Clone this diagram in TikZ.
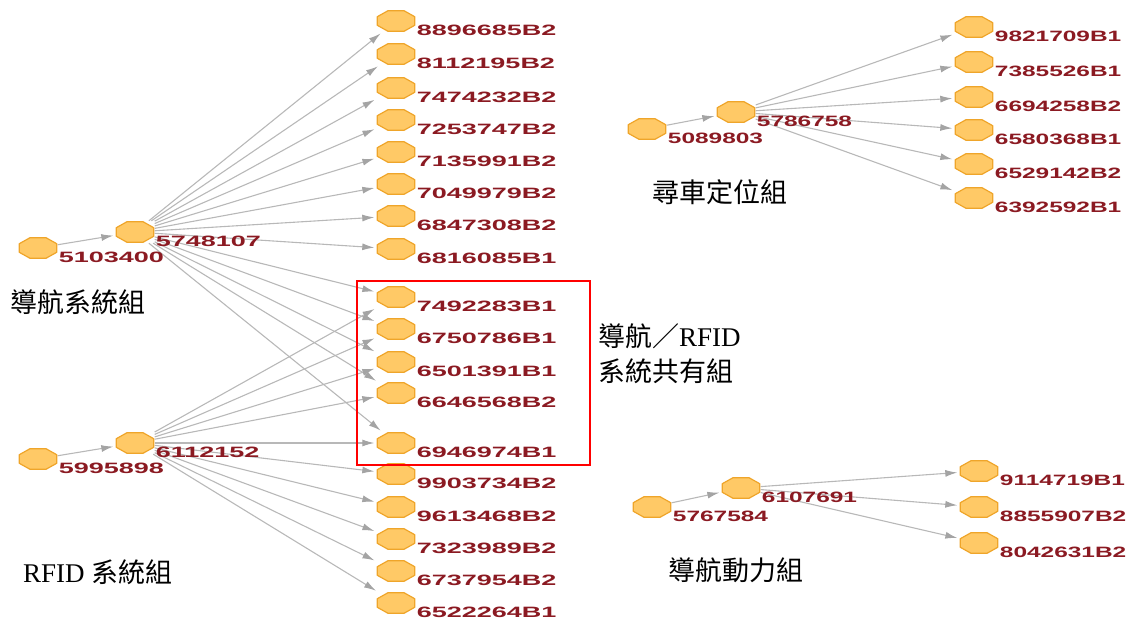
\documentclass[tikz,border=0pt]{standalone}
\usepackage{fontspec}
\setmainfont{Liberation Serif}
\newfontfamily\cjk{Noto Sans CJK TC}
\newfontfamily\lblfont{Liberation Sans}[FakeStretch=1.8]
\newfontfamily\lblfontn{Liberation Sans}[FakeStretch=1.63]
\usetikzlibrary{arrows.meta,backgrounds}
\definecolor{nodefill}{HTML}{FFC966}
\definecolor{nodeline}{HTML}{EFA52A}
\definecolor{lblred}{HTML}{8B1A22}
\definecolor{edgegray}{HTML}{B8B8B8}
\definecolor{tipgray}{HTML}{A4A4A4}
\tikzset{
  gnode/.style={rectangle, minimum width=39pt, minimum height=22pt, inner sep=0pt,
    path picture={\filldraw[shift={(path picture bounding box.center)}, fill=nodefill,
      draw=nodeline, line width=1.2pt, line join=round]
      (-18.7,-4.3) -- (-18.7,4.3) -- (-8,10.3) -- (8,10.3) -- (18.7,4.3)
      -- (18.7,-4.3) -- (8,-10.3) -- (-8,-10.3) -- cycle;}},
  lbl/.style={anchor=west, inner sep=0pt, text=lblred, font=\lblfont\bfseries\fontsize{15}{15}\selectfont},
  lbln/.style={anchor=west, inner sep=0pt, text=lblred, font=\lblfontn\bfseries\fontsize{15}{15}\selectfont},
  edge/.style={draw=edgegray, line width=1.1pt, -{Latex[length=12pt,width=7pt,color=tipgray]}, shorten >=2pt},
  grp/.style={font=\fontsize{27}{35}\selectfont, anchor=west, inner sep=0pt, align=left},
}
\newcommand\gn[3]{\node[gnode] (#1) at (#2) {}; \node[lbl] (#1l) at ([xshift=1pt,yshift=-9pt]#1.east) {#3};}
\newcommand\gnr[3]{\node[gnode] (#1) at (#2) {}; \node[lbln] (#1l) at ([xshift=1pt,yshift=-9pt]#1.east) {#3};}
\begin{document}
\begin{tikzpicture}[x=1pt,y=-1pt]
\useasboundingbox (0,0) rectangle (1127,620);
% left group
\gn{a0}{38,248}{5103400}
\gn{a1}{135,232}{5748107}
\gn{b0}{38,459}{5995898}
\gn{b1}{135,443}{6112152}
\gn{L1}{396,21}{8896685B2}
\gn{L2}{396,54}{8112195B2}
\gn{L3}{396,88}{7474232B2}
\gn{L4}{396,120}{7253747B2}
\gn{L5}{396,152}{7135991B2}
\gn{L6}{396,184}{7049979B2}
\gn{L7}{396,216}{6847308B2}
\gn{L8}{396,249}{6816085B1}
\gn{L9}{396,297}{7492283B1}
\gn{L10}{396,329}{6750786B1}
\gn{L11}{396,362}{6501391B1}
\gn{L12}{396,393}{6646568B2}
\gn{L13}{396,443}{6946974B1}
\gn{L14}{396,474}{9903734B2}
\gn{L15}{396,507}{9613468B2}
\gn{L16}{396,539}{7323989B2}
\gn{L17}{396,571}{6737954B2}
\gn{L18}{396,603}{6522264B1}
% right group
\gnr{r0}{647,129}{5089803}
\gnr{r1}{736,112}{5786758}
\gnr{R1}{974,27}{9821709B1}
\gnr{R2}{974,62}{7385526B1}
\gnr{R3}{974,97}{6694258B2}
\gnr{R4}{974,130}{6580368B1}
\gnr{R5}{974,164}{6529142B2}
\gnr{R6}{974,198}{6392592B1}
% bottom right group
\gnr{d0}{652,507}{5767584}
\gnr{d1}{741,488}{6107691}
\gnr{D1}{979,471}{9114719B1}
\gnr{D2}{979,507}{8855907B2}
\gnr{D3}{979,543}{8042631B2}
\begin{pgfonlayer}{background}
\draw[edge] (a0) -- (a1);
\foreach \t in {L1,L2,L3,L4,L5,L6,L7,L8,L9,L10,L11,L12,L13} \draw[edge] (a1) -- (\t);
\draw[edge] (b0) -- (b1);
\foreach \t in {L9,L10,L11,L12,L13,L14,L15,L16,L17,L18} \draw[edge] (b1) -- (\t);
\draw[edge] (r0) -- (r1);
\foreach \t in {R1,R2,R3,R4,R5,R6} \draw[edge] (r1) -- (\t);
\draw[edge] (d0) -- (d1);
\foreach \t in {D1,D2,D3} \draw[edge] (d1) -- (\t);
\end{pgfonlayer}
% shared box
\draw[red, line width=2pt] (357,281) rectangle (590,465);
% group labels
\node[grp] (g1) at (10,302) {{\cjk 導航系統組}};
\node[grp] (g2) at (23,572) {RFID {\cjk 系統組}};
\node[grp] (g3) at (598,354) {{\cjk 導航／}RFID\\{\cjk 系統共有組}};
\node[grp] (g4) at (652,192) {{\cjk 尋車定位組}};
\node[grp] (g5) at (668,570) {{\cjk 導航動力組}};
\end{tikzpicture}
\end{document}
